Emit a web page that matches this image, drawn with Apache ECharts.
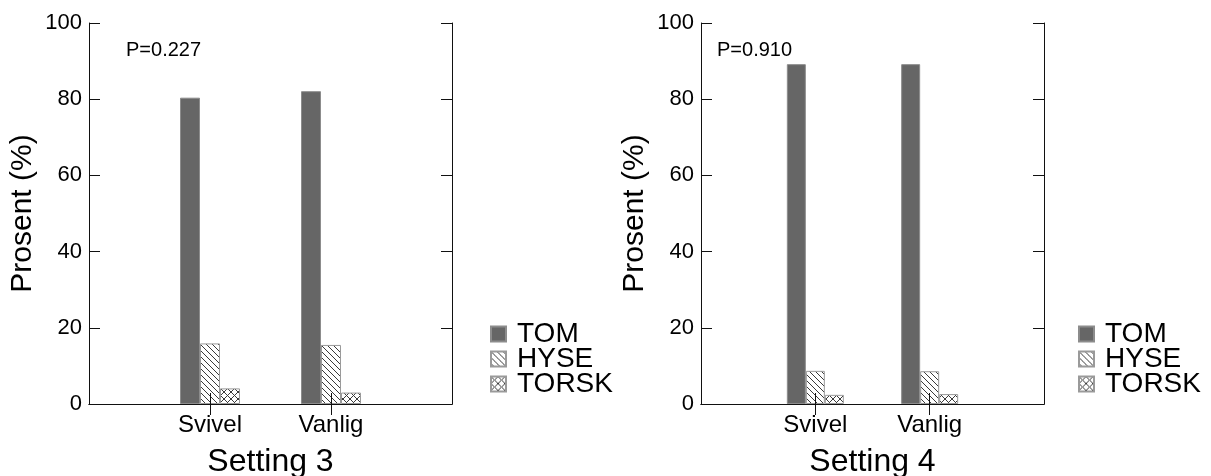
<!DOCTYPE html>
<html>
<head>
<meta charset="utf-8">
<script src="https://cdn.jsdelivr.net/npm/echarts@6/dist/echarts.min.js"></script>
<style>html,body{margin:0;padding:0;background:#fff}#c{width:1211px;height:476px}</style>
</head>
<body>
<div id="c"></div>
<script>
// ---- data ----
const categories = ['', 'Svivel', 'Vanlig', ''];
const seriesNames = ['TOM', 'HYSE', 'TORSK'];
const setting3TOM = [80.4, 82.1];
const setting3HYSE = [15.9, 15.5];
const setting3TORSK = [4.1, 3.0];
const setting4TOM = [89.2, 89.2];
const setting4HYSE = [8.7, 8.6];
const setting4TORSK = [2.4, 2.6];
const panelTitles = ['Setting 3', 'Setting 4'];
const pLabels = ['P=0.227', 'P=0.910'];
const yTicks = [0, 20, 40, 60, 80, 100];

const FONT = '"Liberation Sans", Arial, sans-serif';

function makePattern(kind) {
  const s = kind === 'hatch' ? 6 : 7;
  const c = document.createElement('canvas');
  c.width = s; c.height = s;
  const g = c.getContext('2d');
  g.fillStyle = '#fff'; g.fillRect(0, 0, s, s);
  g.strokeStyle = '#3a3a3a'; g.lineWidth = 1;
  g.beginPath();
  g.moveTo(-1, -1); g.lineTo(s + 1, s + 1);
  g.moveTo(-1, s - 1); g.lineTo(1, s + 1);
  g.moveTo(s - 1, -1); g.lineTo(s + 1, 1);
  if (kind === 'cross') {
    g.moveTo(-1, s + 1); g.lineTo(s + 1, -1);
    g.moveTo(-1, 1); g.lineTo(1, -1);
    g.moveTo(s - 1, s + 1); g.lineTo(s + 1, s - 1);
  }
  g.stroke();
  return c;
}
const hatch = makePattern('hatch');
const cross = makePattern('cross');

const styles = {
  TOM: { color: '#666666', borderColor: '#8c8c8c', borderWidth: 1 },
  HYSE: { color: { image: hatch, repeat: 'repeat' }, borderColor: '#9a9a9a', borderWidth: 1 },
  TORSK: { color: { image: cross, repeat: 'repeat' }, borderColor: '#9a9a9a', borderWidth: 1 }
};

function pad(vals) { return ['-', vals[0], vals[1], '-']; }

const panels = [
  { left: 89, right: 1211 - 452, data: [setting3TOM, setting3HYSE, setting3TORSK], bw: 20 },
  { left: 701, right: 1211 - 1044, data: [setting4TOM, setting4HYSE, setting4TORSK], bw: 19 }
];

const grid = [], xAxis = [], yAxis = [], series = [], legend = [], graphic = [];
const axisLine = { show: true, lineStyle: { color: '#111', width: 1 } };
const tickInterval = (i) => i === 1 || i === 2;

panels.forEach((p, k) => {
  grid.push({ left: p.left, right: p.right, top: 23, bottom: 72, containLabel: false, outerBoundsMode: 'none' });
  xAxis.push({
    gridIndex: k, type: 'category', position: 'bottom', data: categories, boundaryGap: false, z: 10,
    axisLine: axisLine,
    axisTick: { show: true, inside: true, length: 11, interval: tickInterval, lineStyle: { color: '#111' } },
    axisLabel: { fontSize: 24, color: '#000', fontFamily: FONT, margin: 9, interval: 0 },
    name: panelTitles[k], nameLocation: 'middle', nameGap: 42,
    nameTextStyle: { fontSize: 32, color: '#000', fontFamily: FONT }
  });
  xAxis.push({
    gridIndex: k, type: 'category', position: 'top', data: categories, boundaryGap: false,
    axisLine: axisLine,
    axisTick: { show: true, inside: true, length: 11, interval: tickInterval, lineStyle: { color: '#111' } },
    axisLabel: { show: false }
  });
  yAxis.push({
    gridIndex: k, type: 'value', position: 'left', min: yTicks[0], max: yTicks[yTicks.length - 1], interval: 20,
    axisLine: axisLine,
    axisTick: { show: true, inside: true, length: 11, lineStyle: { color: '#111' } },
    axisLabel: { fontSize: 22, color: '#000', fontFamily: FONT, margin: 7 },
    splitLine: { show: false },
    name: 'Prosent (%)', nameLocation: 'middle', nameGap: 51,
    nameTextStyle: { fontSize: 30, color: '#000', fontFamily: FONT }
  });
  yAxis.push({
    gridIndex: k, type: 'value', position: 'right', min: yTicks[0], max: yTicks[yTicks.length - 1], interval: 20,
    axisLine: axisLine,
    axisTick: { show: true, inside: true, length: 11, lineStyle: { color: '#111' } },
    axisLabel: { show: false },
    splitLine: { show: false }
  });
  seriesNames.forEach((n, j) => {
    series.push({
      name: n, type: 'bar', xAxisIndex: 2 * k, yAxisIndex: 2 * k,
      data: pad(p.data[j]), barWidth: p.bw, barGap: '0%',
      itemStyle: styles[n], emphasis: { disabled: true }, animation: false
    });
  });
  legend.push({
    data: seriesNames, orient: 'vertical', left: k === 0 ? 490 : 1078, top: 320, padding: 0,
    itemWidth: 15, itemHeight: 15, itemGap: -3, icon: 'rect', selectedMode: false,
    textStyle: { fontSize: 28, color: '#000', fontFamily: FONT, padding: [0, 0, 0, 6] }
  });
  graphic.push({
    type: 'text', left: k === 0 ? 126 : 717, top: 40,
    style: { text: pLabels[k], font: '20px ' + FONT, fill: '#000' }
  });
});

const chart = echarts.init(document.getElementById('c'), null, { renderer: 'canvas' });
chart.setOption({
  animation: false,
  backgroundColor: '#fff',
  grid, xAxis, yAxis, series, legend, graphic
});
</script>
</body>
</html>
